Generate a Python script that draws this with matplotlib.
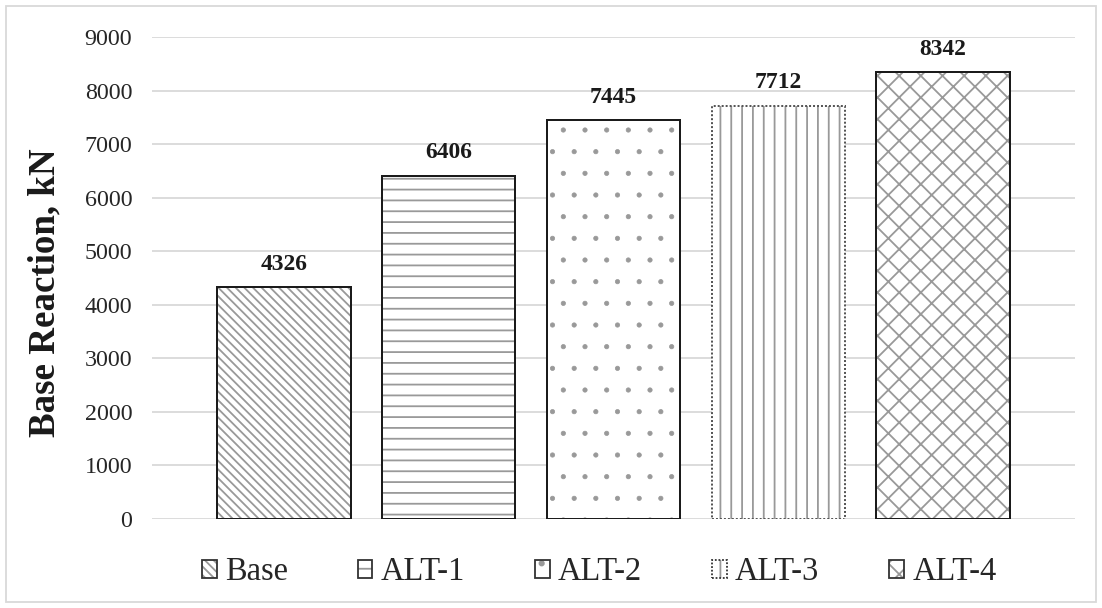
import matplotlib
matplotlib.use("Agg")
from matplotlib import pyplot as plt
from matplotlib.patches import Patch, Rectangle

# 数据
categories = ["Base", "ALT-1", "ALT-2", "ALT-3", "ALT-4"]
reactions = [4326, 6406, 7445, 7712, 8342]
hatches = ["\\" * 5, "--", ".", "||", "xx"]
hatch_widths = [1.0, 1.0, 0.4, 1.0, 1.0]
outline_styles = ["-", "-", "-", (0, (1, 1)), "-"]
outline_colors = ["#1a1a1a", "#1a1a1a", "#1a1a1a", "#555555", "#1a1a1a"]

plt.rcParams["font.family"] = ["Liberation Serif", "DejaVu Serif"]

fig = plt.figure(figsize=(1102 / 130, 608 / 130), dpi=130)
ax = fig.add_axes([152 / 1102, 1 - 519 / 608, 923 / 1102, 482 / 608])

# 外框
fig.patches.append(Rectangle((6 / 1102, 6 / 608), 1090 / 1102, 596 / 608,
                             transform=fig.transFigure, fill=False,
                             edgecolor="#d9d9d9", linewidth=1.0))

x = list(range(len(categories)))
hatch_gray = "#999999"

# 先画阴影，再画黑色边框
for i in x:
    with plt.rc_context({"hatch.linewidth": hatch_widths[i]}):
        ax.bar(i, reactions[i], width=0.81, color="white", edgecolor=hatch_gray,
               hatch=hatches[i], linewidth=0, zorder=2)
    ax.bar(i, reactions[i], width=0.81, fill=False, edgecolor=outline_colors[i],
           linewidth=1.1, linestyle=outline_styles[i], zorder=3)
    ax.annotate(str(reactions[i]), (i, reactions[i]), xytext=(0, 7),
                textcoords="offset points", ha="center", va="bottom",
                fontsize=13, fontweight="bold", color="#1a1a1a")

ax.set_xlim(-0.8, 4.8)
ax.set_ylim(0, 9000)
ax.set_yticks(range(0, 9001, 1000))
ax.set_xticks([])
ax.tick_params(axis="y", length=0, pad=11, labelsize=13.3, labelcolor="#262626")
ax.grid(axis="y", color="#d9d9d9", linewidth=1.0, zorder=0)
ax.set_axisbelow(True)
for s in ax.spines.values():
    s.set_visible(False)

ax.set_ylabel("Base Reaction, kN", fontsize=20.5, fontweight="bold", color="#1a1a1a")
ax.yaxis.set_label_coords(-0.097, 0.469)

# 图例
handles = []
for i in x:
    with plt.rc_context({"hatch.linewidth": hatch_widths[i]}):
        hp = Patch(facecolor="white", edgecolor=hatch_gray, hatch=hatches[i], linewidth=0)
    handles.append((hp, Patch(fill=False, edgecolor="#333333", linewidth=1.0,
                              linestyle=outline_styles[i])))
fig.legend(handles, categories, loc="center", bbox_to_anchor=(599 / 1102, 1 - 572 / 608),
           ncol=5, frameon=False, fontsize=18, handlelength=0.46, handleheight=0.46,
           handletextpad=0.25, columnspacing=2.15, labelcolor="#262626")

plt.savefig("out.png", dpi=130)
